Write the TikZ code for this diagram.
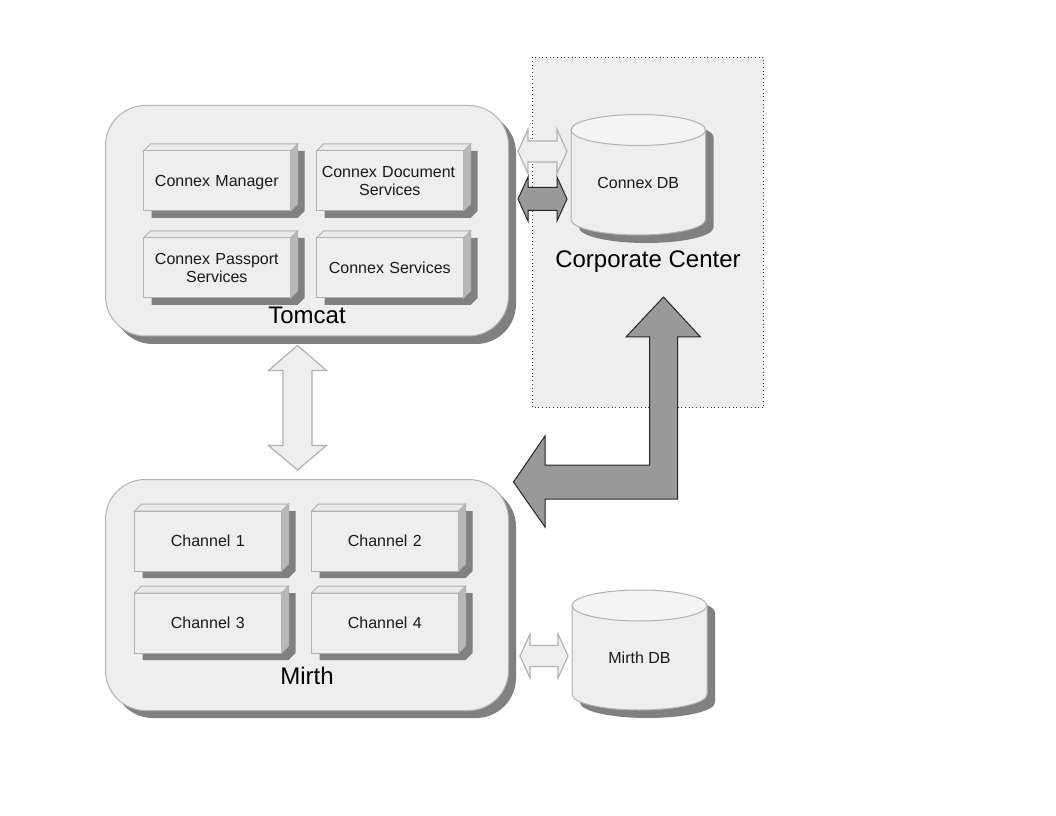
\documentclass[tikz,border=0pt]{standalone}
\usepackage{fontspec}
\setmainfont{Liberation Sans}
\definecolor{panel}{HTML}{EEEEEE}
\definecolor{lightline}{HTML}{B2B2B2}
\definecolor{dropgray}{HTML}{808080}
\definecolor{darkfill}{HTML}{999999}
\definecolor{sidefill}{HTML}{B8B8B8}
\definecolor{topfill}{HTML}{F4F4F4}
\definecolor{boxtop}{HTML}{EAEAEA}
\tikzset{
  shadowfill/.style={fill=dropgray,draw=none},
  solid panel/.style={fill=panel,draw=lightline,line width=0.75pt},
  lightarrow/.style={fill=panel,draw=lightline,line width=0.9pt,line join=miter},
  darkarrow/.style={fill=darkfill,draw=black!85,line width=0.75pt,line join=miter},
  small/.style={font=\fontsize{12}{13.5}\selectfont,align=center,text=black!90},
  big/.style={font=\fontsize{18}{20}\selectfont,text=black},
}
% x, y of front top-left, width, height, name, text
\newcommand{\solidbox}[6]{%
  \fill[dropgray] (#1+8,#2+7) -- (#1+#3+7,#2-0) -- (#1+#3+14,#2) -- (#1+#3+14,#2+#4+0) -- (#1+#3+7,#2+#4+7) -- (#1+8,#2+#4+7) -- cycle;
  \draw[solid panel,fill=sidefill] (#1+#3,#2) -- (#1+#3+7,#2-7) -- (#1+#3+7,#2+#4-7) -- (#1+#3,#2+#4) -- cycle;
  \draw[solid panel,fill=boxtop] (#1,#2) -- (#1+7,#2-7) -- (#1+#3+7,#2-7) -- (#1+#3,#2) -- cycle;
  \draw[solid panel] (#1,#2) rectangle (#1+#3,#2+#4);
  \node[small,text width=146*0.75pt,inner sep=0pt] (#5) at (#1+#3/2-0.2,#2+#4/2) {#6};
}
% x left, x right, y top ellipse centre, y bottom, ry, name, text
\newcommand{\dbcyl}[7]{%
  \fill[dropgray] (#1+8,#3+7) arc[x radius={(#2-#1)/2*0.75pt},y radius=#5*0.75pt,start angle=180,end angle=0] -- (#2+8,#4-#5+8) arc[x radius={(#2-#1)/2*0.75pt},y radius=#5*0.75pt,start angle=0,end angle=-180] -- cycle;
  \draw[solid panel] (#1,#3) -- (#1,#4-#5) arc[x radius={(#2-#1)/2*0.75pt},y radius=#5*0.75pt,start angle=-180,end angle=0] -- (#2,#3) -- cycle;
  \draw[solid panel,fill=topfill] ({(#1+#2)/2},#3) ellipse[x radius={(#2-#1)/2*0.75pt},y radius=#5*0.75pt];
  \node[small,inner sep=0pt] (#6) at ({(#1+#2)/2},{#3+(#4-#3)/2}) {#7};
}
% horizontal double block arrow: xl tip, xl base, xr base, xr tip, centre, half head, half shaft
\newcommand{\hdouble}[8]{%
  \draw[#8] (#1,#5) -- (#2,#5-#6) -- (#2,#5-#7) -- (#3,#5-#7) -- (#3,#5-#6) -- (#4,#5) -- (#3,#5+#6) -- (#3,#5+#7) -- (#2,#5+#7) -- (#2,#5+#6) -- cycle;
}
\begin{document}
\begin{tikzpicture}[x=0.75pt,y=-0.75pt]
\useasboundingbox (0,0) rectangle (1056,816);
\fill[white] (0,0) rectangle (1056,816);

% Corporate Center panel
\draw[fill=panel,draw=black!75,line width=0.75pt,dotted] (532.5,57.5) rectangle (763.5,407.5);
\node[big,inner sep=0pt] (corp) at (648,262) {Corporate Center};

% Tomcat
\fill[shadowfill,rounded corners=30pt] (113,113) rectangle (516,344);
\draw[solid panel,rounded corners=30pt] (105.5,105.5) rectangle (508.5,336);
\solidbox{143.5}{151}{147}{60}{manager}{\raisebox{0pt}[\height][0pt]{Connex Manager}}
\solidbox{316.5}{151}{147}{60}{docs}{\hspace*{-2pt}Connex Document\\Services}
\solidbox{143.5}{238}{147}{60}{passport}{Connex Passport\\Services}
\solidbox{316.5}{238}{147}{60}{services}{Connex Services}
\node[big,inner sep=0pt] (tomcat) at (307,315) {Tomcat};

% Mirth
\fill[shadowfill,rounded corners=30pt] (113,487) rectangle (516,718);
\draw[solid panel,rounded corners=30pt] (105.5,479.5) rectangle (508.5,710.5);
\solidbox{134.5}{511}{147}{60}{ch1}{Channel 1}
\solidbox{311.5}{511}{147}{60}{ch2}{Channel 2}
\solidbox{134.5}{593}{147}{60}{ch3}{Channel 3}
\solidbox{311.5}{593}{147}{60}{ch4}{Channel 4}
\node[big,inner sep=0pt] (mirth) at (307,676) {Mirth};

% Databases
\dbcyl{571}{705.5}{130}{235}{15.5}{connexdb}{Connex DB}
\dbcyl{572}{707}{605.5}{710}{15.5}{mirthdb}{Mirth DB}

% Block arrows
\hdouble{518}{528}{557}{567}{151.5}{22}{10.5}{lightarrow}
\hdouble{518}{528}{557}{567}{199}{22}{11.5}{darkarrow}
\hdouble{520}{530}{558}{568}{656}{22}{10.5}{lightarrow}
\draw[lightarrow] (297.5,345.5) -- (326.5,370.5) -- (312,370.5) -- (312,445.5) -- (326.5,445.5) -- (297.5,470) -- (268.5,445.5) -- (283,445.5) -- (283,370.5) -- (268.5,370.5) -- cycle;
\draw[darkarrow] (663.5,297) -- (700.5,337) -- (677.5,337) -- (677.5,499) -- (545,499) -- (545,527) -- (513.5,482) -- (545,436) -- (545,465) -- (649.5,465) -- (649.5,337) -- (626,337) -- cycle;
\end{tikzpicture}
\end{document}
